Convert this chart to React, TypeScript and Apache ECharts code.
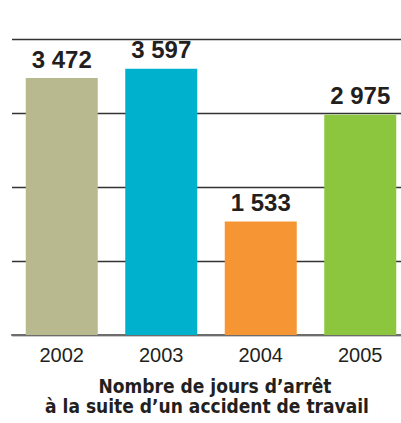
import React, { useEffect, useRef } from "react";
import * as echarts from "echarts";

const years = ["2002", "2003", "2004", "2005"];
const values = [3472, 3597, 1533, 2975];
const barColors = ["#b8b98f", "#00b1cd", "#f69533", "#8cc63f"];
const titleLines = ["Nombre de jours d\u2019arrêt", "à la suite d\u2019un accident de travail"];

const fmt = (v: number) => {
  const s = String(v);
  return s.length > 3 ? s.slice(0, s.length - 3) + " " + s.slice(-3) : s;
};

export default function App() {
  const ref = useRef<HTMLDivElement>(null);
  useEffect(() => {
    document.body.style.margin = "0";
    const chart = echarts.init(ref.current!, undefined, { renderer: "svg" });
    chart.setOption({
      animation: false,
      backgroundColor: "#ffffff",
      grid: {
        left: 12,
        width: 398,
        top: 39,
        height: 296,
        containLabel: false,
        outerBoundsMode: "none",
      },
      xAxis: {
        type: "category",
        data: years,
        axisLine: { show: true, lineStyle: { color: "#6d6d6d", width: 2 } },
        axisTick: { show: false },
        axisLabel: {
          margin: 10,
          fontSize: 20,
          color: "#231f20",
          fontFamily: "Liberation Sans, Arial, sans-serif",
        },
      },
      yAxis: {
        type: "value",
        min: 0,
        max: 4000,
        interval: 1000,
        axisLabel: { show: false },
        axisLine: { show: false },
        axisTick: { show: false },
        splitLine: { show: true, lineStyle: { color: "#333333", width: 1.3 } },
      },
      series: [
        {
          type: "bar",
          barWidth: 72,
          data: values.map((v, i) => ({ value: v, itemStyle: { color: barColors[i] } })),
          label: {
            show: true,
            position: "top",
            distance: 7,
            fontSize: 24,
            fontWeight: "bold",
            color: "#231f20",
            fontFamily: "Liberation Sans, Arial, sans-serif",
            formatter: (p: any) => fmt(p.value),
          },
        },
      ],
      graphic: [
        {
          type: "text",
          x: 215,
          y: 376,
          style: {
            text: titleLines[0],
            textAlign: "center",
            fontSize: 19,
            fontWeight: "bold",
            fill: "#231f20",
            fontFamily: "Liberation Sans Narrow, DejaVu Sans Condensed, sans-serif",
          },
        },
        {
          type: "text",
          x: 207,
          y: 396,
          style: {
            text: titleLines[1],
            textAlign: "center",
            fontSize: 19,
            fontWeight: "bold",
            fill: "#231f20",
            fontFamily: "Liberation Sans Narrow, DejaVu Sans Condensed, sans-serif",
          },
        },
      ],
    });
    return () => chart.dispose();
  }, []);
  return (
    <div
      ref={ref}
      style={{ position: "absolute", left: 0, top: 0, width: 401, height: 423 }}
    />
  );
}
